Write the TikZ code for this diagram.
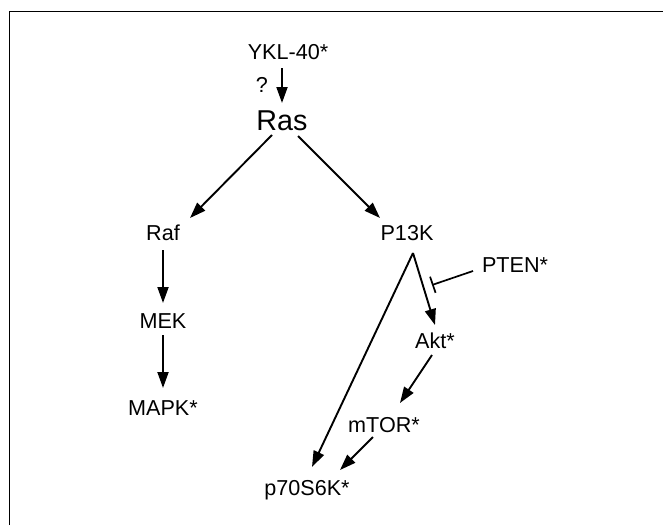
\documentclass[tikz,border=0pt]{standalone}
\usepackage{fontspec}
\setmainfont{Liberation Sans}
\usetikzlibrary{arrows.meta}
\begin{document}
\begin{tikzpicture}[x=1pt,y=-1pt,
  lbl/.style={inner sep=0pt,anchor=base,font=\fontsize{21.6pt}{24pt}\selectfont},
  big/.style={inner sep=0pt,anchor=base,font=\fontsize{28.7pt}{32pt}\selectfont},
  arr/.style={line width=1.9pt,-{Triangle[length=16pt,width=11pt]}},
  inh/.style={line width=1.7pt,-{Bar[width=17pt,line width=1.7pt]}},
  frame/.style={line width=1.5pt}]
\useasboundingbox (0,0) rectangle (663,525);
\fill[white] (0,0) rectangle (663,525);
\draw[frame] (9.5,525) -- (9.5,11.7) -- (663,11.7);
% nodes
\node[lbl] (ykl) at (288,59) {YKL-40*};
\node[lbl] (q) at (262,92) {?};
\node[big] (ras) at (282,130) {Ras};
\node[lbl] (raf) at (163,240) {Raf};
\node[lbl] (mek) at (163,328) {MEK};
\node[lbl] (mapk) at (163,415) {MAPK*};
\node[lbl] (pik) at (407,240) {P13K};
\node[lbl] (pten) at (515,272) {PTEN*};
\node[lbl] (akt) at (435,348) {Akt*};
\node[lbl] (mtor) at (384,432) {mTOR*};
\node[lbl] (p70) at (307,495) {p70S6K*};
% connectors
\draw[arr] ([shift={(-6,9)}]ykl.base) -- ([shift={(0,-27)}]ras.base);
\draw[arr] ([shift={(-10,5)}]ras.base) -- ([shift={(27,-22)}]raf.base);
\draw[arr] ([shift={(16,6)}]ras.base) -- ([shift={(-27,-22)}]pik.base);
\draw[arr] ([shift={(0,10)}]raf.base) -- ([shift={(0,-25)}]mek.base);
\draw[arr] ([shift={(0,7)}]mek.base) -- ([shift={(0,-27)}]mapk.base);
\draw[arr] ([shift={(6,13)}]pik.base) -- ([shift={(0,-23)}]akt.base);
\draw[arr] ([shift={(6,13)}]pik.base) -- ([shift={(5,-28)}]p70.base);
\draw[arr] ([shift={(-3,7)}]akt.base) -- ([shift={(16,-29)}]mtor.base);
\draw[arr] ([shift={(-11,5)}]mtor.base) -- ([shift={(33,-25)}]p70.base);
\draw[inh] ([shift={(-42,-1)}]pten.base) -- ([shift={(-83,13)}]pten.base);
\end{tikzpicture}
\end{document}
